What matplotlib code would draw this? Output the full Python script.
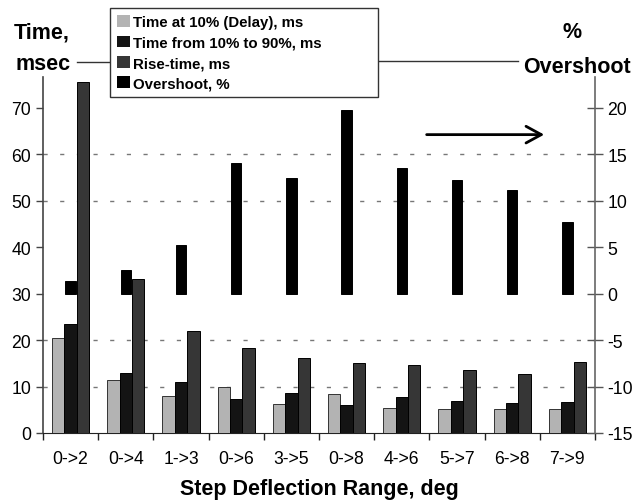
import matplotlib
matplotlib.use("Agg")
import matplotlib.pyplot as plt
import numpy as np
from matplotlib.patches import Patch
from matplotlib.lines import Line2D

plt.rcParams['font.family'] = ['Liberation Sans', 'DejaVu Sans']
plt.rcParams['axes.unicode_minus'] = False

categories = ["0->2", "0->4", "1->3", "0->6", "3->5", "0->8", "4->6", "5->7", "6->8", "7->9"]
delay_ms = [20.4, 11.5, 7.9, 10.0, 6.2, 8.4, 5.4, 5.1, 5.1, 5.1]
t10_90_ms = [23.5, 13.0, 11.0, 7.4, 8.7, 6.1, 7.7, 6.9, 6.4, 6.7]
rise_ms = [75.5, 33.1, 21.9, 18.2, 16.1, 15.1, 14.6, 13.5, 12.6, 15.3]
overshoot_pct = [1.3, 2.5, 5.2, 14.1, 12.4, 19.8, 13.5, 12.2, 11.1, 7.7]

labels = ["Time at 10% (Delay), ms", "Time from 10% to 90%, ms", "Rise-time, ms", "Overshoot, %"]
colors = ["#b3b3b3", "#141414", "#363636", "#000000"]

W, H = 638, 502
fig = plt.figure(figsize=(W / 100, H / 100), dpi=100)

def fx(px):
    return px / W

def fy(py):
    return 1 - py / H

ax = fig.add_axes([fx(43), fy(434), fx(595) - fx(43), fy(78) - fy(434)])
ax2 = ax.twinx()

x = np.arange(len(categories))
bw = 0.225
ax.bar(x - bw, delay_ms, bw, color=colors[0], edgecolor="#333333", linewidth=0.7, zorder=3)
ax.bar(x, t10_90_ms, bw, color=colors[1], edgecolor="#000000", linewidth=0.7, zorder=3)
ax.bar(x + bw, rise_ms, bw, color=colors[2], edgecolor="#000000", linewidth=0.7, zorder=3)
ax2.bar(x, overshoot_pct, 0.187, color=colors[3], edgecolor="#000000", linewidth=0.7, zorder=3)

ax.set_xlim(-0.5, len(categories) - 0.5)
ax.set_ylim(0, 76.6)
ax2.set_ylim(-15, 23.3)

# gridlines
for g in [10, 20, 50, 60]:
    ax.axhline(g, color="#777777", linewidth=1.0, linestyle=(0, (3, 9)), zorder=1)

ax.set_yticks(np.arange(0, 71, 10))
ax2.set_yticks(np.arange(-15, 21, 5))
ax.set_xticks(x)
ax.set_xticklabels(categories)
ax.set_xticks(np.arange(-0.5, len(categories), 1.0), minor=True)

ax.tick_params(axis='x', which='major', length=0, pad=12, labelsize=12.7)
ax.tick_params(axis='x', which='minor', length=5, width=1, color="#222222", direction='out')
ax.tick_params(axis='y', length=5, width=1, color="#444444", direction='out', pad=3.5, labelsize=12.7)
ax2.tick_params(axis='y', length=12, width=1, color="#555555", direction='inout', pad=3, labelsize=12.7)

for s in ['top', 'right']:
    ax.spines[s].set_visible(False)
for s in ['top', 'left', 'bottom']:
    ax2.spines[s].set_visible(False)
ax.spines['left'].set_color("#444444")
ax.spines['bottom'].set_color("#222222")
ax2.spines['right'].set_color("#666666")
ax.spines['left'].set_linewidth(1.2)
ax2.spines['right'].set_linewidth(1.2)

ax.set_xlabel("Step Deflection Range, deg", fontsize=15.5, fontweight='bold', labelpad=8)

# arrow pointing to right axis
ax2.annotate("", xy=(8.63, 17.1), xytext=(6.40, 17.1),
             arrowprops=dict(arrowstyle="->,head_length=1.1,head_width=0.6", lw=2, color="black"))

# axis titles
fig.text(fx(42), fy(38.3), "Time,", ha='center', va='baseline', fontsize=15.5, fontweight='bold')
fig.text(fx(43), fy(70), "msec", ha='center', va='baseline', fontsize=15.5, fontweight='bold')
fig.text(fx(572), fy(38.3), "%", ha='center', va='baseline', fontsize=15.5, fontweight='bold')
fig.text(fx(576.5), fy(73.3), "Overshoot", ha='center', va='baseline', fontsize=15.5, fontweight='bold')

# legend
handles = [Patch(facecolor=c, edgecolor='none') for c in colors]
leg = fig.legend(handles, labels, loc='upper left',
                 bbox_to_anchor=(fx(110), fy(101.7), fx(378) - fx(110), fy(9.3) - fy(101.7)),
                 mode='expand', frameon=True, fancybox=False, framealpha=1,
                 prop=dict(family='Liberation Sans', weight='bold', size=10.8),
                 handlelength=0.85, handleheight=0.85, handletextpad=0.25,
                 labelspacing=0.42, borderpad=0.45, borderaxespad=0)
leg.get_frame().set_edgecolor("#333333")
leg.get_frame().set_linewidth(1.0)

# connector lines
fig.add_artist(Line2D([fx(77), fx(110)], [fy(62.7), fy(62.7)], color="#333333", lw=1.0))
fig.add_artist(Line2D([fx(378), fx(518)], [fy(62.3), fy(62.3)], color="#333333", lw=1.0))

fig.savefig("out.png", dpi=100)
